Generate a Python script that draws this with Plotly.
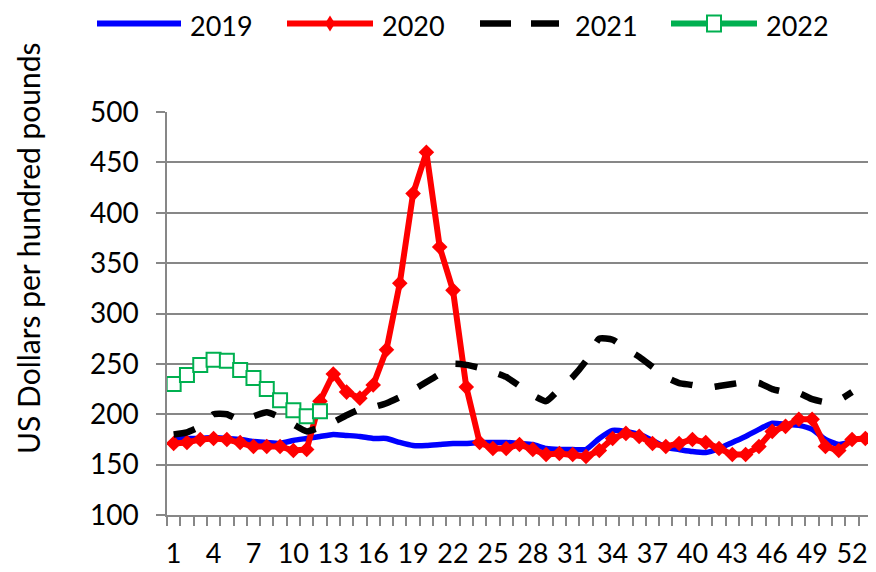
import plotly.graph_objects as go

# ---------------- data ----------------
weeks_2019 = list(range(1, 53))
price_2019 = [176, 176, 176, 177, 176, 175, 173, 172, 171, 174, 176, 178, 180, 179, 178, 176,
              176, 172, 169, 169, 170, 171, 171, 172, 172, 172, 171, 170, 166, 165, 165, 165,
              176, 184, 183, 180, 174, 167, 165, 163, 162, 166, 172, 178, 185, 191, 190, 189,
              185, 175, 170, 173]

weeks_2020 = list(range(1, 54))
price_2020 = [171, 172, 175, 176, 175, 172, 168, 168, 168, 164, 165, 213, 240, 222, 216, 229,
              264, 330, 419, 460, 366, 323, 227, 172, 166, 166, 170, 165, 160, 161, 160, 158,
              164, 176, 181, 178, 171, 168, 171, 175, 172, 166, 160, 160, 168, 183, 188, 195,
              195, 168, 164, 175, 176]

weeks_2021 = list(range(1, 53))
price_2021 = [180, 182, 188, 200, 200, 194, 198, 202, 197, 190, 183, 187, 192, 199, 205, 207,
              211, 217, 224, 232, 240, 250, 249, 246, 242, 237, 228, 219, 213, 225, 237, 253,
              275, 274, 265, 257, 247, 237, 231, 229, 226, 228, 230, 232, 231, 225, 222, 221,
              215, 212, 214, 222]

weeks_2022 = list(range(1, 13))
price_2022 = [230, 239, 249, 254, 253, 244, 236, 225, 214, 204, 198, 203]

x_tick_labels = list(range(1, 53, 3))
y_ticks = list(range(100, 501, 50))
series_names = ["2019", "2020", "2021", "2022"]
y_title = "US Dollars per hundred pounds"

# ---------------- styling ----------------
FONT = "Lato"
GRID = "#878787"
W, H = 876, 572
OFF = 8                      # page body margin offset
PL, PR, PT, PB = 167 - OFF, 872 - OFF, 112 - OFF, 515 - OFF   # plot area in figure pixels


def px_x(px):
    """reference-screen pixel x -> paper"""
    return (px - OFF - PL) / (PR - PL)


def px_y(py):
    """reference-screen pixel y -> paper"""
    return (PB - (py - OFF)) / (PB - PT)


fig = go.Figure()

fig.add_trace(go.Scatter(
    x=weeks_2019, y=price_2019, name=series_names[0], mode="lines",
    line=dict(color="#0000FF", width=5.5, shape="spline", smoothing=0.5),
    showlegend=False))

fig.add_trace(go.Scatter(
    x=weeks_2020, y=price_2020, name=series_names[1], mode="lines+markers",
    line=dict(color="#FF0000", width=6),
    marker=dict(symbol="diamond", size=12, color="#FF0000"),
    showlegend=False))

fig.add_trace(go.Scatter(
    x=weeks_2021, y=price_2021, name=series_names[2], mode="lines",
    line=dict(color="#000000", width=6.5, dash="22px,22.5px", shape="spline", smoothing=0.5),
    showlegend=False))

fig.add_trace(go.Scatter(
    x=weeks_2022, y=price_2022, name=series_names[3], mode="lines+markers",
    line=dict(color="#00B050", width=5),
    marker=dict(symbol="square", size=14, color="white",
                line=dict(color="#00B050", width=2)),
    showlegend=False))

# ---------------- manual legend (Excel-style long samples) ----------------
LEG_Y = 23.5          # sample line centre (reference-screen px)
TXT_Y = 25.8          # legend text box centre (kept inside the figure)
leg_y = px_y(LEG_Y)
shapes = []
annotations = []
legend_items = [
    # (sample x0, x1, text x, colour, style)  -- reference-screen pixels
    (97, 181, 188, "#0000FF", "line"),
    (287, 373, 380, "#FF0000", "diamond"),
    (480, 559, 573, "#000000", "dash"),
    (671, 757, 764, "#00B050", "square"),
]
for (x0, x1, tx, col, style), name in zip(legend_items, series_names):
    if style == "dash":
        for a, b in [(x0, x0 + 31), (x1 - 28, x1)]:
            shapes.append(dict(type="line", xref="paper", yref="paper",
                               x0=px_x(a), x1=px_x(b), y0=leg_y, y1=leg_y,
                               line=dict(color=col, width=6.5)))
    else:
        shapes.append(dict(type="line", xref="paper", yref="paper",
                           x0=px_x(x0), x1=px_x(x1), y0=leg_y, y1=leg_y,
                           line=dict(color=col, width=6)))
    cx = (x0 + x1) / 2
    if style == "diamond":
        shapes.append(dict(type="path", xref="paper", yref="paper",
                           path="M {a},{b} L {c},{d} L {a},{e} L {f},{d} Z".format(
                               a=px_x(cx), b=px_y(LEG_Y - 8), c=px_x(cx + 5),
                               d=leg_y, e=px_y(LEG_Y + 8), f=px_x(cx - 5)),
                           fillcolor=col, line=dict(color=col, width=0)))
    if style == "square":
        shapes.append(dict(type="rect", xref="paper", yref="paper",
                           x0=px_x(cx - 7), x1=px_x(cx + 7),
                           y0=px_y(LEG_Y + 8), y1=px_y(LEG_Y - 8),
                           fillcolor="white", line=dict(color=col, width=2)))
    annotations.append(dict(text=name, xref="paper", yref="paper",
                            x=px_x(tx), y=px_y(TXT_Y), xanchor="left", yanchor="middle",
                            showarrow=False, font=dict(family=FONT, size=27, color="black")))

annotations.append(dict(text=y_title, xref="paper", yref="paper",
                        x=px_x(28), y=px_y(248), xanchor="center", yanchor="middle",
                        textangle=-90, showarrow=False,
                        font=dict(family=FONT, size=30, color="black")))

fig.update_layout(
    width=W, height=H,
    margin=dict(l=PL, r=W - PR, t=PT, b=H - PB, pad=0, autoexpand=False),
    paper_bgcolor="white", plot_bgcolor="white",
    font=dict(family=FONT, size=28, color="black"),
    showlegend=False,
    shapes=shapes, annotations=annotations,
)

fig.update_xaxes(
    range=[0.5, 53.5], tickmode="array", tickvals=x_tick_labels,
    ticktext=[str(v) for v in x_tick_labels],
    ticks="outside", ticklen=9, tickcolor="rgba(0,0,0,0)",
    showgrid=False, zeroline=False, automargin=False,
    showline=True, linecolor=GRID, linewidth=1.5,
    tickfont=dict(family=FONT, size=27, color="black"),
    ticklabelstandoff=5,
    minor=dict(ticks="outside", ticklen=9, tickcolor=GRID, tickwidth=1.5,
               tick0=0.5, dtick=1, showgrid=False),
)

fig.update_yaxes(
    range=[100, 500], tickmode="array", tickvals=y_ticks,
    ticks="outside", ticklen=9, tickcolor=GRID, tickwidth=1.5,
    showgrid=True, gridcolor=GRID, gridwidth=1.5, zeroline=False, automargin=False,
    showline=True, linecolor=GRID, linewidth=1.5,
    tickfont=dict(family=FONT, size=28, color="black"),
    ticklabelstandoff=12,
)

fig.write_html("out.html")
